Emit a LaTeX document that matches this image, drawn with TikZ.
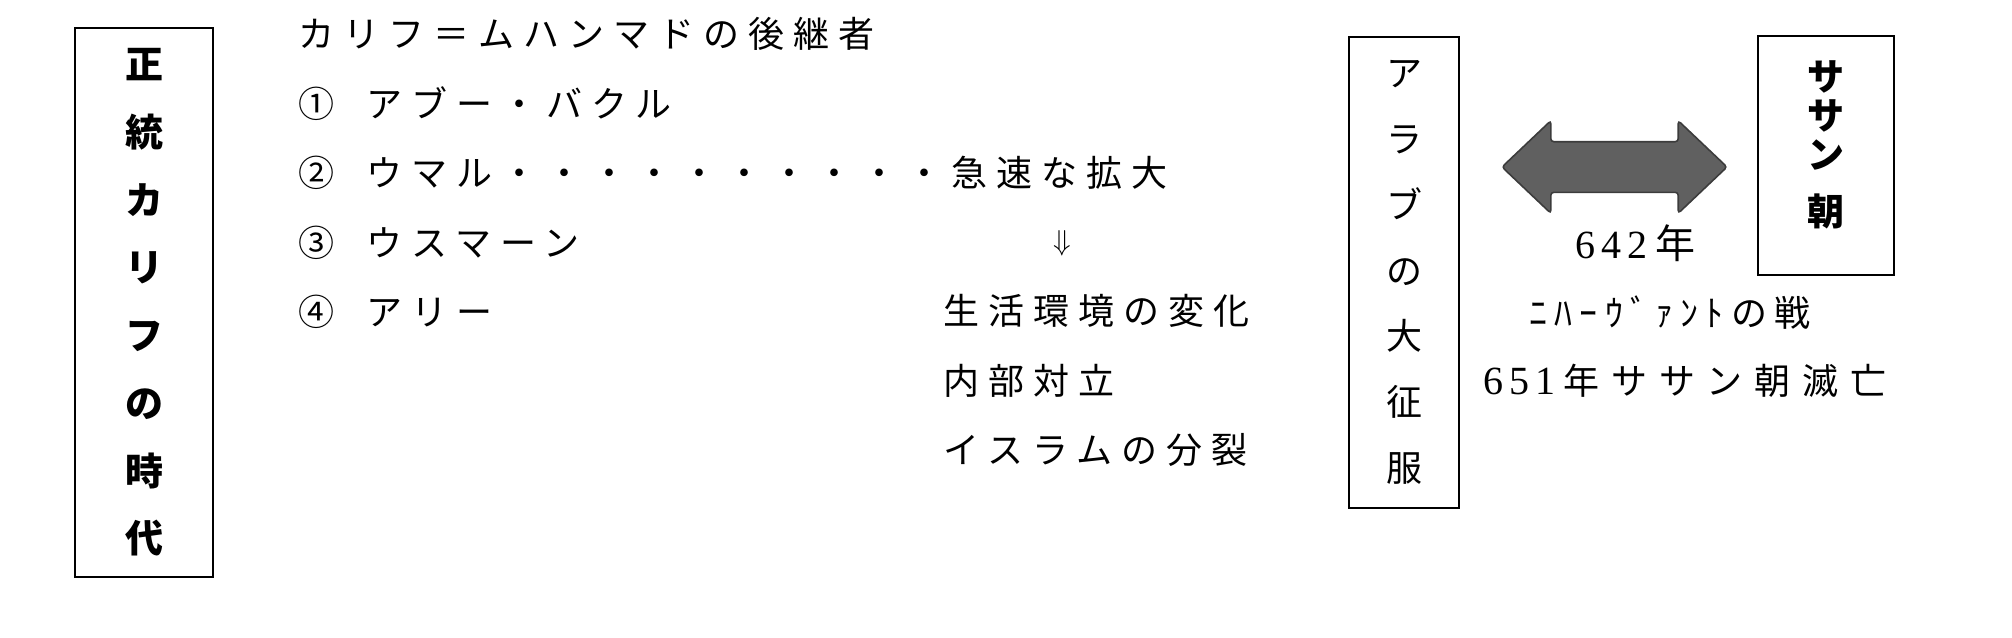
\documentclass[tikz,border=0pt]{standalone}
\usepackage{fontspec}
\setmainfont{Liberation Serif}
\newfontfamily\cjk[LetterSpace=25]{Noto Sans CJK JP}
\newfontfamily\cjkv{Noto Sans CJK JP}
\newfontfamily\cjkn[LetterSpace=20]{Noto Sans CJK JP}
\newfontfamily\cjkw[LetterSpace=33]{Noto Sans CJK JP}
\newfontfamily\numfont[LetterSpace=15]{Liberation Serif}
\usetikzlibrary{positioning,shapes.arrows}
\definecolor{ArrowGrey}{RGB}{96,96,96}
\definecolor{ArrowEdge}{RGB}{60,60,60}
\tikzset{%
	era/.style={rectangle, draw=black, line width=1pt, inner sep=0pt,
		align=center, font=\cjkv\bfseries\fontsize{19}{33.85}\selectfont},
	entry/.style={inner sep=0pt, anchor=west, text height=16pt, text depth=2.5pt,
		font=\cjk\fontsize{18}{22}\selectfont},
	battle/.style={double arrow, draw=ArrowEdge, fill=ArrowGrey, line width=0.8pt,
		inner xsep=0pt, inner ysep=12.25pt, minimum height=112.5pt,
		double arrow head extend=10.5pt, double arrow tip angle=87,
		rounded corners=1.5pt},
}

\begin{document}
\begin{tikzpicture}[x=0.5pt, y=-0.5pt]
    \useasboundingbox (0,0) rectangle (2012,637);

    \node [era, minimum width=69pt, minimum height=274.5pt] (Caliphs) at (144,302.5)
        {正\\統\\カ\\リ\\フ\\の\\時\\代};

    \node [entry] (Heirs) at (298,34) {カリフ＝ムハンマドの後継者};
    \node [entry, below=34.75pt of Heirs.west, anchor=west] (Abu) {①\hspace{16pt}アブー・バクル};
    \node [entry, below=34.75pt of Abu.west, anchor=west] (Umar) {②\hspace{16pt}ウマル・・・・・・・・・・急速な拡大};
    \node [entry, below=34.75pt of Umar.west, anchor=west] (Uthman) {③\hspace{16pt}ウスマーン};
    \node [entry, below=34.75pt of Uthman.west, anchor=west] (Ali) {④\hspace{16pt}アリー};

    \node (Then) at (1062,243) {\fontsize{15}{15}\selectfont$\Downarrow$};
    \node [entry] (Life) at (943,311) {生活環境の変化};
    \node [entry, below=34.75pt of Life.west, anchor=west] (Strife) {内部対立};
    \node [entry, below=34.75pt of Strife.west, anchor=west] (Split) {イスラムの分裂};

    \node [era, font=\cjkv\fontsize{18}{32.9}\selectfont, minimum width=55pt,
        minimum height=235.5pt] (Conquest) at (1404,272.5)
        {ア\\ラ\\ブ\\の\\大\\征\\服};

    \node [battle] (Clash) at (1614.5,167) {};

    \node [era, font=\cjkv\bfseries\fontsize{18.5}{19.5}\selectfont, minimum width=68pt,
        minimum height=119.5pt] (Sasanian) at (1826,155.5)
        {サ\\サ\\ン\\[9pt]朝\rule[-12pt]{0pt}{12pt}};

    \node (Year642) at (1635,243) {\fontsize{20}{22}\selectfont{\numfont 642}\hspace{4pt}{\cjkv 年}};
    \node (Nahavand) at (1670,313) {\cjkn\fontsize{18}{22}\selectfont ﾆﾊｰｳﾞｧﾝﾄの戦};
    \node (Fall) at (1685,381) {\fontsize{20}{22}\selectfont{\numfont 651}\hspace{4pt}{\cjkw\fontsize{18}{22}\selectfont 年ササン朝滅亡}};

\end{tikzpicture}
\end{document}
